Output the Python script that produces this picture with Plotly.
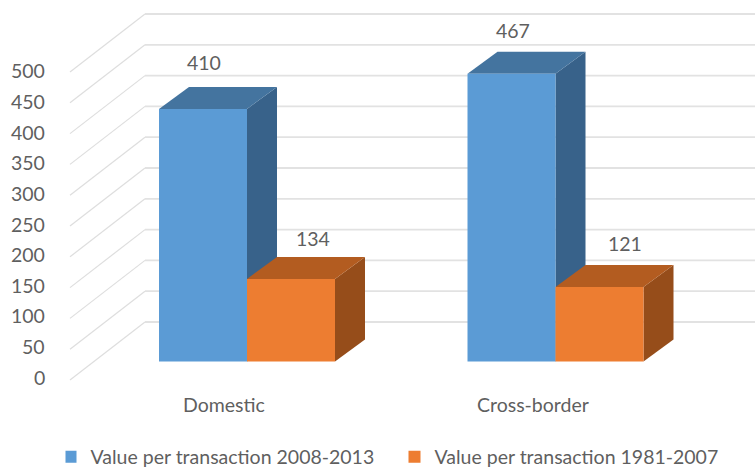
import plotly.graph_objects as go

categories = ["Domestic", "Cross-border"]
series_new = [410, 467]
series_old = [134, 121]
name_new = "Value per transaction 2008-2013"
name_old = "Value per transaction 1981-2007"
y_ticks = [0, 50, 100, 150, 200, 250, 300, 350, 400, 450, 500]

# Scales of the picture
PX_CAT = 308.5      # pixels per category
PX_VAL = 0.616      # pixels per value unit
W, H = 755, 468
MARGIN_B = 34       # room kept under the plot area for the legend
X0_PX, Y0_PX = 247, 361.5
BAR = 88 / PX_CAT
DX = 30 / PX_CAT    # bar depth, x units
DY = 22 / PX_VAL    # bar depth, y units

xr = [-X0_PX / PX_CAT, (W - X0_PX) / PX_CAT]
yr = [(Y0_PX - (H - MARGIN_B)) / PX_VAL, Y0_PX / PX_VAL]

FONT = "Lato, Carlito, Calibri, sans-serif"
TXT = "#5f5f5f"
FS = 19.5

fig = go.Figure()

# Gridlines: the diagonal side wall and the back wall
WALL_L = (70 - X0_PX) / PX_CAT
WALL_B = (145 - X0_PX) / PX_CAT
FRONT_DY = (Y0_PX - 380) / PX_VAL
BACK_DY = (Y0_PX - 322) / PX_VAL
diag_x, diag_y, back_x, back_y = [], [], [], []
for t in y_ticks:
    diag_x += [WALL_L, WALL_B, None]
    diag_y += [t + FRONT_DY, t + BACK_DY, None]
    back_x += [WALL_B, xr[1], None]
    back_y += [t + BACK_DY, t + BACK_DY, None]
fig.add_trace(go.Scatter(x=diag_x, y=diag_y, mode="lines", line=dict(color="#dedede", width=1.2),
                         showlegend=False, hoverinfo="skip"))
fig.add_trace(go.Scatter(x=back_x, y=back_y, mode="lines", line=dict(color="#e2e2e2", width=1.8),
                         showlegend=False, hoverinfo="skip"))


def faces(left, val, top_col, side_col):
    right = left + BAR
    fig.add_trace(go.Scatter(x=[right, right + DX, right + DX, right, right],
                             y=[0, DY, val + DY, val, 0],
                             mode="lines", fill="toself", fillcolor=side_col, line=dict(width=0),
                             showlegend=False, hoverinfo="skip"))
    fig.add_trace(go.Scatter(x=[left, left + DX, right + DX, right, left],
                             y=[val, val + DY, val + DY, val, val],
                             mode="lines", fill="toself", fillcolor=top_col, line=dict(width=0),
                             showlegend=False, hoverinfo="skip"))


for i in range(len(categories)):
    faces(i - BAR, series_new[i], "#44749f", "#38628a")
    faces(i, series_old[i], "#b35c20", "#964d1a")

# Front faces, on overlaid axes so that they sit above the depth faces
fig.add_trace(go.Bar(x=categories, y=series_new, name=name_new, marker=dict(color="#5b9bd5", line=dict(width=0)),
                     width=BAR, offset=-BAR, xaxis="x2", yaxis="y2"))
fig.add_trace(go.Bar(x=categories, y=series_old, name=name_old, marker=dict(color="#ed7d31", line=dict(width=0)),
                     width=BAR, offset=0, xaxis="x2", yaxis="y2"))

# Value labels
label_shift = [(1, 46), (1, 43), (22, 40), (25, 43)]
label_pts = [(i, v, -BAR / 2) for i, v in enumerate(series_new)] + [(i, v, BAR / 2) for i, v in enumerate(series_old)]
for (i, v, off), (sx, sy) in zip(label_pts, label_shift):
    fig.add_annotation(x=i + off, y=v, text=str(v), showarrow=False, xshift=sx, yshift=sy,
                       font=dict(family=FONT, size=FS, color=TXT))

# Y tick labels
for t in y_ticks:
    fig.add_annotation(x=(45 - X0_PX) / PX_CAT, y=t * 0.995 - 25.6, text=str(t), showarrow=False,
                       xanchor="right", font=dict(family=FONT, size=FS, color=TXT), xshift=2)

# Category labels
for i, c in enumerate(categories):
    fig.add_annotation(x=i, y=(Y0_PX - 404.5) / PX_VAL, text=c, showarrow=False, xshift=-23,
                       font=dict(family=FONT, size=FS, color=TXT))

hidden = dict(visible=False, fixedrange=True)
fig.update_layout(
    width=W, height=H,
    margin=dict(l=0, r=0, t=0, b=MARGIN_B),
    paper_bgcolor="white", plot_bgcolor="white",
    barmode="overlay",
    xaxis=dict(range=xr, type="linear", **hidden),
    yaxis=dict(range=yr, **hidden),
    xaxis2=dict(range=xr, type="category", categoryorder="array", categoryarray=categories,
                overlaying="x", anchor="y2", **hidden),
    yaxis2=dict(range=yr, overlaying="y", anchor="x2", **hidden),
    showlegend=True,
    legend=dict(orientation="h", xref="container", yref="container",
                x=65.5 / W, xanchor="left", y=11 / H, yanchor="middle",
                indentation=-15, entrywidth=314, entrywidthmode="pixels",
                font=dict(family=FONT, size=FS, color=TXT), bgcolor="rgba(0,0,0,0)"),
    font=dict(family=FONT),
)

fig.write_html("out.html", config=dict(displayModeBar=False),
               post_script="document.body.style.margin='0';document.body.style.overflow='hidden';")
